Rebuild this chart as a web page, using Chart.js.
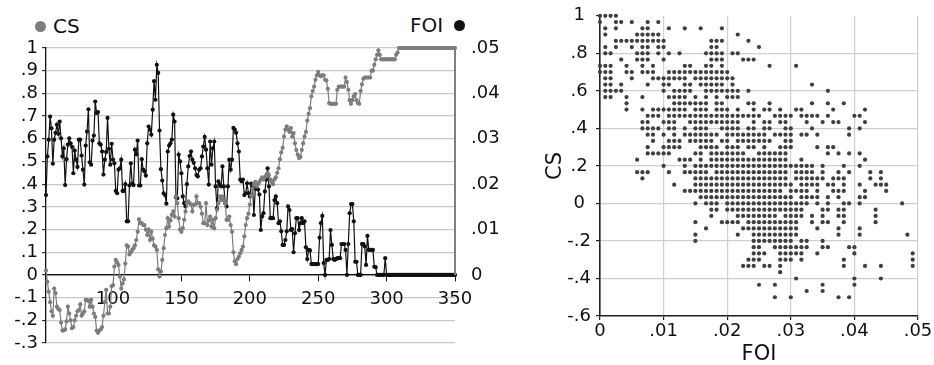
<!DOCTYPE html>
<html>
<head>
<meta charset="utf-8">
<script src="https://cdn.jsdelivr.net/npm/chart.js@4.4.1/dist/chart.umd.min.js"></script>
<style>
  body { margin: 0; background: #fff; width: 934px; height: 365px; position: relative; overflow: hidden; font-family: "DejaVu Sans"; }
  #lineBox { position: absolute; left: 0; top: 0; width: 500px; height: 365px; }
  #scatterBox { position: absolute; left: 500px; top: 0; width: 434px; height: 365px; }
  .key { position: absolute; display: flex; align-items: center; height: 22px; font-size: 20px; color: #111; }
  .dot { display: inline-block; width: 11px; height: 11px; border-radius: 50%; }
</style>
</head>
<body>
<div class="key" style="left:35px;top:15px;"><span class="dot" style="background:#7d7d7d"></span><span style="margin-left:7px">CS</span></div>
<div class="key" style="left:410px;top:14px;"><span>FOI</span><span class="dot" style="background:#111;margin-left:11px"></span></div>
<div id="lineBox"><canvas id="lineChart" width="500" height="365"></canvas></div>
<div id="scatterBox"><canvas id="scatterChart" width="434" height="365"></canvas></div>
<script>
// left chart: days 51..350
const firstDay = 51;
const dayTicks = [100, 150, 200, 250, 300, 350];
const csTicks = [-0.3, -0.2, -0.1, 0, 0.1, 0.2, 0.3, 0.4, 0.5, 0.6, 0.7, 0.8, 0.9, 1];
const foiTicks = [0, 0.01, 0.02, 0.03, 0.04, 0.05];

const csSeries = [
  0.02, -0.03, -0.074, -0.12, -0.16, -0.18, -0.06, -0.08, -0.14, -0.15,
  -0.155, -0.21, -0.245, -0.245, -0.24, -0.205, -0.14, -0.17, -0.2, -0.235,
  -0.23, -0.2, -0.18, -0.16, -0.155, -0.13, -0.18, -0.17, -0.16, -0.11,
  -0.11, -0.115, -0.14, -0.11, -0.14, -0.17, -0.185, -0.245, -0.255, -0.245,
  -0.24, -0.23, -0.18, -0.12, -0.066, -0.17, -0.17, -0.14, -0.05, -0.045,
  0.037, 0.066, 0.055, 0.044, -0.007, -0.06, -0.037, -0.02, 0.05, 0.13,
  0.125, 0.09, 0.1, 0.11, 0.118, 0.13, 0.154, 0.19, 0.245, 0.228,
  0.228, 0.22, 0.22, 0.2, 0.176, 0.2, 0.154, 0.19, 0.16, 0.13,
  0.125, 0.11, 0.025, -0.007, 0.015, 0.066, 0.118, 0.176, 0.206, 0.25,
  0.213, 0.24, 0.265, 0.28, 0.257, 0.346, 0.316, 0.25, 0.2, 0.19,
  0.206, 0.243, 0.28, 0.316, 0.324, 0.316, 0.31, 0.28, 0.31, 0.31,
  0.346, 0.316, 0.316, 0.3, 0.27, 0.228, 0.228, 0.316, 0.22, 0.24,
  0.257, 0.213, 0.243, 0.206, 0.25, 0.287, 0.316, 0.346, 0.33, 0.346,
  0.33, 0.316, 0.243, 0.243, 0.257, 0.22, 0.19, 0.1, 0.06, 0.047,
  0.07, 0.08, 0.095, 0.11, 0.125, 0.17, 0.22, 0.25, 0.27, 0.31,
  0.35, 0.38, 0.4, 0.41, 0.39, 0.4, 0.41, 0.42, 0.43, 0.42,
  0.43, 0.44, 0.45, 0.44, 0.42, 0.41, 0.4, 0.42, 0.43, 0.45,
  0.47, 0.51, 0.54, 0.56, 0.61, 0.64, 0.655, 0.64, 0.63, 0.647,
  0.61, 0.625, 0.58, 0.55, 0.53, 0.515, 0.52, 0.55, 0.58, 0.61,
  0.63, 0.68, 0.71, 0.735, 0.787, 0.81, 0.83, 0.86, 0.88, 0.895,
  0.88, 0.875, 0.88, 0.88, 0.86, 0.857, 0.82, 0.757, 0.754, 0.754,
  0.754, 0.754, 0.754, 0.816, 0.83, 0.83, 0.83, 0.83, 0.83, 0.87,
  0.85, 0.816, 0.77, 0.754, 0.77, 0.787, 0.797, 0.77, 0.757, 0.754,
  0.81, 0.84, 0.865, 0.87, 0.87, 0.87, 0.87, 0.87, 0.9, 0.9,
  0.926, 0.95, 0.97, 0.99, 0.97, 0.95, 0.95, 0.95, 0.95, 0.95,
  0.95, 0.95, 0.95, 0.95, 0.95, 0.95, 0.97, 0.98, 1, 1,
  1, 1, 1, 1, 1, 1, 1, 1, 1, 1,
  1, 1, 1, 1, 1, 1, 1, 1, 1, 1,
  1, 1, 1, 1, 1, 1, 1, 1, 1, 1,
  1, 1, 1, 1, 1, 1, 1, 1, 1, 1
];

const foiSeries = [
  .0176, .0261, .0298, .0349, .0323, .0245, .0298, .0313, .0331, .0311,
  .0338, .0301, .0261, .0279, .0198, .0255, .0287, .0301, .029, .0282,
  .0224, .0274, .0254, .0238, .0298, .0298, .0263, .0232, .0199, .0285,
  .0316, .0365, .0248, .0243, .0296, .0307, .0382, .0357, .0359, .029,
  .0287, .0272, .0221, .0254, .0271, .0346, .0278, .0243, .0289, .0254,
  .0246, .0185, .018, .0232, .0235, .0254, .0185, .0185, .02, .0118,
  .0118, .0197, .0246, .0201, .0198, .0276, .0266, .0296, .0197, .0197,
  .0255, .0232, .0228, .0219, .029, .0327, .032, .0309, .0364, .0427,
  .0386, .0463, .0445, .0318, .0233, .0208, .018, .0176, .0157, .0272,
  .0285, .029, .0298, .0353, .0338, .0171, .0169, .0265, .025, .0224,
  .0173, .0158, .0151, .02, .0239, .0262, .0272, .0254, .0247, .0235,
  .022, .0217, .0232, .0235, .0261, .0283, .0304, .0276, .0235, .0199,
  .0294, .0243, .0279, .0294, .0195, .0147, .0206, .0199, .0195, .0239,
  .0195, .0158, .0151, .0195, .0254, .0232, .0254, .0324, .032, .0313,
  .029, .0272, .021, .0206, .021, .0176, .018, .0202, .018, .0173,
  .0201, .0195, .0132, .019, .0191, .0188, .0177, .0099, .0129, .0136,
  .0184, .021, .0235, .0195, .0125, .0125, .0125, .0165, .0173, .0158,
  .0114, .0118, .0096, .0066, .0066, .0077, .0096, .0151, .0143, .0099,
  .0101, .005, .0092, .0125, .0125, .0099, .0114, .0125, .0114, .0118,
  .0061, .0035, .0055, .0054, .0024, .0024, .0024, .0024, .0024, .0024,
  .0082, .0114, .013, .0026, 0, .0033, .0033, .0035, .0099, .0066,
  .0035, .0033, .0035, .0037, .0037, .0037, .0068, .0068, .0068, .0055,
  0, .0068, .0136, .0156, .0156, .0118, .0029, .0029, 0, 0,
  0, .0068, .0068, .0063, .0022, .0086, .0055, .0055, .0055, .0055,
  .0018, .0017, 0, 0, 0, 0, 0, 0, .0037, 0,
  0, 0, 0, 0, 0, 0, 0, 0, 0, 0,
  0, 0, 0, 0, 0, 0, 0, 0, 0, 0,
  0, 0, 0, 0, 0, 0, 0, 0, 0, 0,
  0, 0, 0, 0, 0, 0, 0, 0, 0, 0,
  0, 0, 0, 0, 0, 0, 0, 0, 0, 0
];

// right chart: CS in thirtieths (one row each), FOI in steps of 1/1200
const scatterCsTicks = [-0.6, -0.4, -0.2, 0, 0.2, 0.4, 0.6, 0.8, 1];
const scatterFoiTicks = [0, 0.01, 0.02, 0.03, 0.04, 0.05];
const foiStep = 1 / 1200;
const csRows = [30, 29, 28, 27, 26, 25, 24, 23, 22, 21, 20, 19, 18, 17, 16, 15,
  14, 13, 12, 11, 10, 9, 8, 7, 6, 5, 4, 3, 2, 1, 0, -1, -2, -3, -4, -5, -6, -7,
  -8, -9, -10, -11, -12, -13, -14, -15];
const foiRows = [
  [0,1,2,3],
  [0,3,4,6,9,11],
  [1,3,8,9,13,16,19,23],
  [1,7,8,9,10,11,26],
  [3,4,5,6,7,8,9,10,11,12,21,22,23,28],
  [1,3,6,8,9,11,12,21,22,30],
  [1,2,7,8,9,11,13,15,20,21,22,23,25,26],
  [4,7,8,9,12,21,22,23,27,28,29],
  [0,1,2,5,8,10,16,17,20,21,23,32,37],
  [0,1,2,5,6,8,9,10,13,14,15,16,17,18,19,20,21,22,23,24],
  [1,2,6,10,11,12,13,14,15,16,18,19,20,21,22,23,24,25],
  [1,2,4,9,12,13,16,17,19,20,21,22,23,25,40],
  [1,2,3,4,12,14,15,16,17,20,21,22,23,24,25,26,28,43],
  [1,2,5,8,13,14,15,16,18,20,22,24,25,26],
  [5,14,15,16,17,18,19,20,22,23,28,29,32,40,43,46],
  [5,8,10,11,12,13,14,15,16,18,19,20,22,23,24,26,29,31,32,34,37,38,44,50],
  [9,10,11,13,14,15,16,17,18,19,20,21,22,23,24,25,26,27,28,29,30,33,34,35,36,38,39,40,41,43,48,49],
  [8,9,12,13,14,17,18,19,20,21,22,23,24,25,26,29,31,32,34,35,39,42,44,45,50],
  [8,9,10,11,13,14,16,18,19,20,23,24,25,26,28,29,31,32,35,36,40,47,49],
  [9,10,12,14,16,17,18,19,20,21,22,24,25,26,27,28,29,30,31,33,34,35,36,38,39,41,47],
  [10,13,14,15,17,18,19,20,21,23,24,26,27,28,29,30,31,32,35,36],
  [9,12,13,14,15,19,20,21,22,24,25,26,28,29,31,34,35,36,41,43,44],
  [9,10,11,12,13,18,19,21,22,23,24,25,26,27,30,31,32,33,34,35,43,45,47,49],
  [7,15,16,17,19,21,22,23,24,25,26,27,28,29,30,31,32,33,34,35,38,50],
  [12,16,18,19,20,21,22,23,24,25,26,27,28,29,30,31,32,33,34,35,36,37,38,39,40,42,46,49],
  [7,8,9,13,16,17,18,19,20,22,23,24,25,26,27,28,29,30,31,32,33,34,35,37,38,39,40,42,45,47,51,53],
  [8,18,19,20,21,22,23,24,25,26,27,28,29,30,31,32,33,34,35,37,38,39,40,41,42,44,45,46,51,53],
  [14,18,19,20,21,22,23,24,25,26,27,28,29,30,31,32,33,34,35,36,38,39,40,41,43,44,46,49,52,53,54],
  [16,17,18,19,20,21,22,23,24,25,26,27,28,29,30,31,32,33,34,36,37,38,39,41,44,45,46,50,54],
  [19,20,21,22,23,24,25,26,27,28,29,30,31,32,33,34,35,36,38,39,40,41,43,45,49,50],
  [18,20,21,22,24,25,26,27,28,29,30,31,32,33,34,35,36,37,38,39,41,43,46,47,49,57],
  [21,22,24,25,26,27,28,29,30,31,32,33,34,35,36,37,38,42,43,45,46,52],
  [21,26,27,28,29,30,31,32,33,35,36,37,38,40,42,45,46,52],
  [18,23,24,25,26,28,29,30,31,32,33,34,35,36,37,40,42,43,46,52],
  [20,27,28,29,30,31,32,33,34,35,36,37,41,45,49],
  [18,26,29,30,31,32,33,34,35,36,37,45,49,58],
  [18,29,30,31,32,33,34,35,36,38,39,42],
  [29,30,33,34,35,36,37,38,39,42,43,47,48],
  [29,30,31,34,35,36,37,38,41,48,59],
  [28,29,30,34,35,36,38,46,59],
  [27,28,29,31,32,34,46,50,53,59],
  [34],
  [37,48,53],
  [30,33,42,48],
  [39,42],
  [33,36,45,47]
];

Chart.defaults.font.family = "DejaVu Sans";
Chart.defaults.font.size = 18;
Chart.defaults.color = "#111";

// ".5" style labels, no leading zero
const shortNum = (v) => {
  const s = String(Math.round(v * 1000) / 1000);
  return s.replace("0.", ".");
};
const setTicks = (list) => (scale) => {
  scale.ticks = list.map((v) => ({ value: v }));
};

const csPoints = csSeries.map((v, i) => ({ x: firstDay + i, y: v }));
const foiPoints = foiSeries.map((v, i) => ({ x: firstDay + i, y: v }));

// grey axis line on the FOI side, only from 0 to .05
const foiAxisLine = {
  id: "foiAxisLine",
  afterDraw(chart) {
    const s = chart.scales.y2;
    const ctx = chart.ctx;
    ctx.save();
    ctx.strokeStyle = "#808080";
    ctx.lineWidth = 2;
    ctx.beginPath();
    ctx.moveTo(s.left, s.getPixelForValue(0));
    ctx.lineTo(s.left, s.getPixelForValue(0.05));
    ctx.stroke();
    ctx.restore();
  },
};

new Chart(document.getElementById("lineChart"), {
  type: "line",
  data: {
    datasets: [
      {
        label: "CS",
        data: csPoints,
        yAxisID: "y",
        borderColor: "#7d7d7d",
        backgroundColor: "#7d7d7d",
        borderWidth: 1.2,
        pointRadius: 2.1,
        pointBorderWidth: 0,
        clip: false,
      },
      {
        label: "FOI",
        data: foiPoints,
        yAxisID: "y2",
        borderColor: "#111",
        backgroundColor: "#111",
        borderWidth: 1.2,
        pointRadius: 2.1,
        pointBorderWidth: 0,
        clip: false,
      },
    ],
  },
  options: {
    responsive: false,
    animation: false,
    layout: { padding: { top: 48, bottom: 22, left: 0, right: 0 } },
    plugins: { legend: { display: false }, tooltip: { enabled: false } },
    scales: {
      x: {
        type: "linear",
        min: 51,
        max: 350,
        position: { y: 0 },
        afterBuildTicks: setTicks(dayTicks),
        grid: { drawOnChartArea: false, tickLength: 6, tickColor: "#111" },
        border: { color: "#111", width: 1.3 },
        ticks: { padding: 8, maxRotation: 0, autoSkip: false },
      },
      y: {
        min: -0.3,
        max: 1,
        afterBuildTicks: setTicks(csTicks),
        afterFit: (s) => { s.width = 46; },
        grid: {
          color: (c) => (c.tick && c.tick.value === 0 ? "#111" : "#c8c8c8"),
          lineWidth: 1.2,
          tickLength: 4,
          tickColor: "#333",
        },
        border: { color: "#111", width: 1.3 },
        ticks: { padding: 4, autoSkip: false, callback: shortNum },
      },
      y2: {
        position: "right",
        min: -0.015,
        max: 0.05,
        afterBuildTicks: setTicks(foiTicks),
        afterFit: (s) => { s.width = 45; },
        grid: { display: false },
        border: { display: false },
        ticks: { padding: 8, autoSkip: false, callback: shortNum },
      },
    },
  },
  plugins: [foiAxisLine],
});

const scatterPoints = [];
csRows.forEach((cs, r) => {
  foiRows[r].forEach((step) => {
    scatterPoints.push({ x: step * foiStep, y: cs / 30 });
  });
});

new Chart(document.getElementById("scatterChart"), {
  type: "scatter",
  data: {
    datasets: [
      {
        data: scatterPoints,
        backgroundColor: "#3f3f3f",
        pointRadius: 2.1,
        pointBorderWidth: 0,
        clip: false,
      },
    ],
  },
  options: {
    responsive: false,
    animation: false,
    layout: { padding: { top: 13, left: 39, right: 16, bottom: 0 } },
    plugins: { legend: { display: false }, tooltip: { enabled: false } },
    scales: {
      x: {
        type: "linear",
        min: 0,
        max: 0.05,
        afterBuildTicks: setTicks(scatterFoiTicks),
        afterFit: (s) => { s.height = 49; },
        title: { display: true, text: "FOI", font: { size: 21, lineHeight: 1 }, padding: 0 },
        grid: { color: "#cfcfcf", lineWidth: 1.2, tickLength: 4, tickColor: "#222" },
        border: { color: "#222", width: 1.6 },
        ticks: { padding: 1, maxRotation: 0, autoSkip: false, callback: shortNum },
      },
      y: {
        min: -0.6,
        max: 1,
        afterBuildTicks: setTicks(scatterCsTicks),
        afterFit: (s) => { s.width = 61; },
        title: { display: true, text: "CS", font: { size: 21 }, padding: { top: 4, bottom: 0 } },
        grid: {
          color: (c) => (c.tick && c.tick.value === 1 ? "rgba(0,0,0,0)" : "#cfcfcf"),
          lineWidth: 1.2,
          tickLength: 4,
          tickColor: "#222",
        },
        border: { color: "#222", width: 1.6 },
        ticks: { padding: 5, crossAlign: "center", autoSkip: false, callback: shortNum },
      },
    },
  },
});
</script>
</body>
</html>
